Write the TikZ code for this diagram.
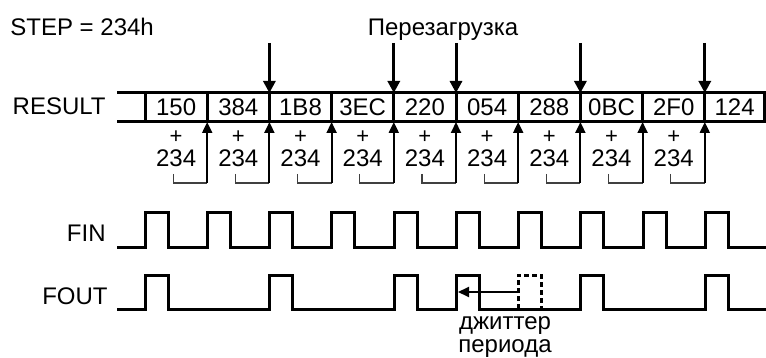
\documentclass[tikz,border=0pt]{standalone}
\usepackage{fontspec}
\setmainfont{Liberation Sans}
\usetikzlibrary{positioning,arrows.meta}
\tikzset{
    cell/.style={draw, line width=1.5pt, minimum width=31.1pt, minimum height=14.5pt, inner sep=0pt, outer sep=0pt, font=\fontsize{12}{12.5}\selectfont},
    sig/.style={line width=1.5pt},
    reload/.style={line width=1.5pt, -{Triangle[length=6pt,width=6pt]}},
    carry/.style={line width=1pt, -{Triangle[length=5.5pt,width=5pt]}},
    brace/.style={line width=0.6pt, black!75},
    lbl/.style={inner sep=0pt, font=\fontsize{12}{12.5}\selectfont},
    plussign/.style={inner sep=0pt, font=\fontsize{11}{11}\selectfont},
}
\begin{document}
\begin{tikzpicture}[x=0.5pt, y=-0.5pt]
    \useasboundingbox (0,0) rectangle (766,358);

    % titoli
    \node[lbl, anchor=base west] (step) at (10,36) {STEP = 234h};
    \node[lbl, anchor=base] (reloadlbl) at (443,36) {Перезагрузка};

    % registro
    \node[lbl, anchor=base east] (result) at (106,115) {RESULT};
    \node[cell] (c1) at (176.1,107.5) {150};
    \node[cell, right=0pt of c1] (c2) {384};
    \node[cell, right=0pt of c2] (c3) {1B8};
    \node[cell, right=0pt of c3] (c4) {3EC};
    \node[cell, right=0pt of c4] (c5) {220};
    \node[cell, right=0pt of c5] (c6) {054};
    \node[cell, right=0pt of c6] (c7) {288};
    \node[cell, right=0pt of c7] (c8) {0BC};
    \node[cell, right=0pt of c8] (c9) {2F0};
    \node[cell, right=0pt of c9, minimum width=29.8pt] (c10) {124};
    \draw[sig] (c1.north west) -- ++(-28,0);
    \draw[sig] (c1.south west) -- ++(-28,0);

    % ricarica
    \draw[reload] (c3.north west) ++(0,-50) -- (c3.north west);
    \draw[reload] (c5.north west) ++(0,-50) -- (c5.north west);
    \draw[reload] (c6.north west) ++(0,-50) -- (c6.north west);
    \draw[reload] (c8.north west) ++(0,-50) -- (c8.north west);
    \draw[reload] (c10.north west) ++(0,-50) -- (c10.north west);

    % somme
    \node[plussign] (p1) at ([yshift=-7.5pt]c1.south) {+};
    \node[lbl, anchor=base] (s1) at ([yshift=-22.5pt]c1.south) {234};
    \draw[brace] ([shift={(-1.5pt,-26pt)}]c1.south) |- ([yshift=-30.5pt]c1.south east);
    \draw[carry] ([yshift=-30.5pt]c1.south east) -- (c1.south east);

    \node[plussign] (p2) at ([yshift=-7.5pt]c2.south) {+};
    \node[lbl, anchor=base] (s2) at ([yshift=-22.5pt]c2.south) {234};
    \draw[brace] ([shift={(-1.5pt,-26pt)}]c2.south) |- ([yshift=-30.5pt]c2.south east);
    \draw[carry] ([yshift=-30.5pt]c2.south east) -- (c2.south east);

    \node[plussign] (p3) at ([yshift=-7.5pt]c3.south) {+};
    \node[lbl, anchor=base] (s3) at ([yshift=-22.5pt]c3.south) {234};
    \draw[brace] ([shift={(-1.5pt,-26pt)}]c3.south) |- ([yshift=-30.5pt]c3.south east);
    \draw[carry] ([yshift=-30.5pt]c3.south east) -- (c3.south east);

    \node[plussign] (p4) at ([yshift=-7.5pt]c4.south) {+};
    \node[lbl, anchor=base] (s4) at ([yshift=-22.5pt]c4.south) {234};
    \draw[brace] ([shift={(-1.5pt,-26pt)}]c4.south) |- ([yshift=-30.5pt]c4.south east);
    \draw[carry] ([yshift=-30.5pt]c4.south east) -- (c4.south east);

    \node[plussign] (p5) at ([yshift=-7.5pt]c5.south) {+};
    \node[lbl, anchor=base] (s5) at ([yshift=-22.5pt]c5.south) {234};
    \draw[brace] ([shift={(-1.5pt,-26pt)}]c5.south) |- ([yshift=-30.5pt]c5.south east);
    \draw[carry] ([yshift=-30.5pt]c5.south east) -- (c5.south east);

    \node[plussign] (p6) at ([yshift=-7.5pt]c6.south) {+};
    \node[lbl, anchor=base] (s6) at ([yshift=-22.5pt]c6.south) {234};
    \draw[brace] ([shift={(-1.5pt,-26pt)}]c6.south) |- ([yshift=-30.5pt]c6.south east);
    \draw[carry] ([yshift=-30.5pt]c6.south east) -- (c6.south east);

    \node[plussign] (p7) at ([yshift=-7.5pt]c7.south) {+};
    \node[lbl, anchor=base] (s7) at ([yshift=-22.5pt]c7.south) {234};
    \draw[brace] ([shift={(-1.5pt,-26pt)}]c7.south) |- ([yshift=-30.5pt]c7.south east);
    \draw[carry] ([yshift=-30.5pt]c7.south east) -- (c7.south east);

    \node[plussign] (p8) at ([yshift=-7.5pt]c8.south) {+};
    \node[lbl, anchor=base] (s8) at ([yshift=-22.5pt]c8.south) {234};
    \draw[brace] ([shift={(-1.5pt,-26pt)}]c8.south) |- ([yshift=-30.5pt]c8.south east);
    \draw[carry] ([yshift=-30.5pt]c8.south east) -- (c8.south east);

    \node[plussign] (p9) at ([yshift=-7.5pt]c9.south) {+};
    \node[lbl, anchor=base] (s9) at ([yshift=-22.5pt]c9.south) {234};
    \draw[brace] ([shift={(-1.5pt,-26pt)}]c9.south) |- ([yshift=-30.5pt]c9.south east);
    \draw[carry] ([yshift=-30.5pt]c9.south east) -- (c9.south east);

    % segnali
    \node[lbl, anchor=base east] (fin) at (106,242) {FIN};
    \draw[sig] (117,247) -| (145,212) -| (168,247) -| (207,212) -| (230,247) -| (269,212) -| (292,247)
        -| (331,212) -| (354,247) -| (394,212) -| (417,247) -| (456,212) -| (479,247) -| (518,212) -| (541,247)
        -| (580,212) -| (603,247) -| (643,212) -| (666,247) -| (705,212) -| (728,247) -- (768,247);

    \node[lbl, anchor=base east] (fout) at (108,304) {FOUT};
    \draw[sig] (117,309) -| (145,275) -| (168,309) -| (269,275) -| (292,309) -| (394,275) -| (417,309)
        -| (456,275) -| (479,309) -| (580,275) -| (603,309) -| (705,275) -| (728,309) -- (768,309);
    \draw[sig, dash pattern=on 2.5pt off 1.5pt] (518,309) |- (541,275) -- (541,309);

    % джиттер
    \coordinate (jstart) at (518,292);
    \coordinate (jend) at (458,292);
    \draw[carry] (jstart) -- (jend);
    \node[lbl, align=center, anchor=base] (jitter) at (505,352) {джиттер\\[-1pt]периода};
\end{tikzpicture}
\end{document}
